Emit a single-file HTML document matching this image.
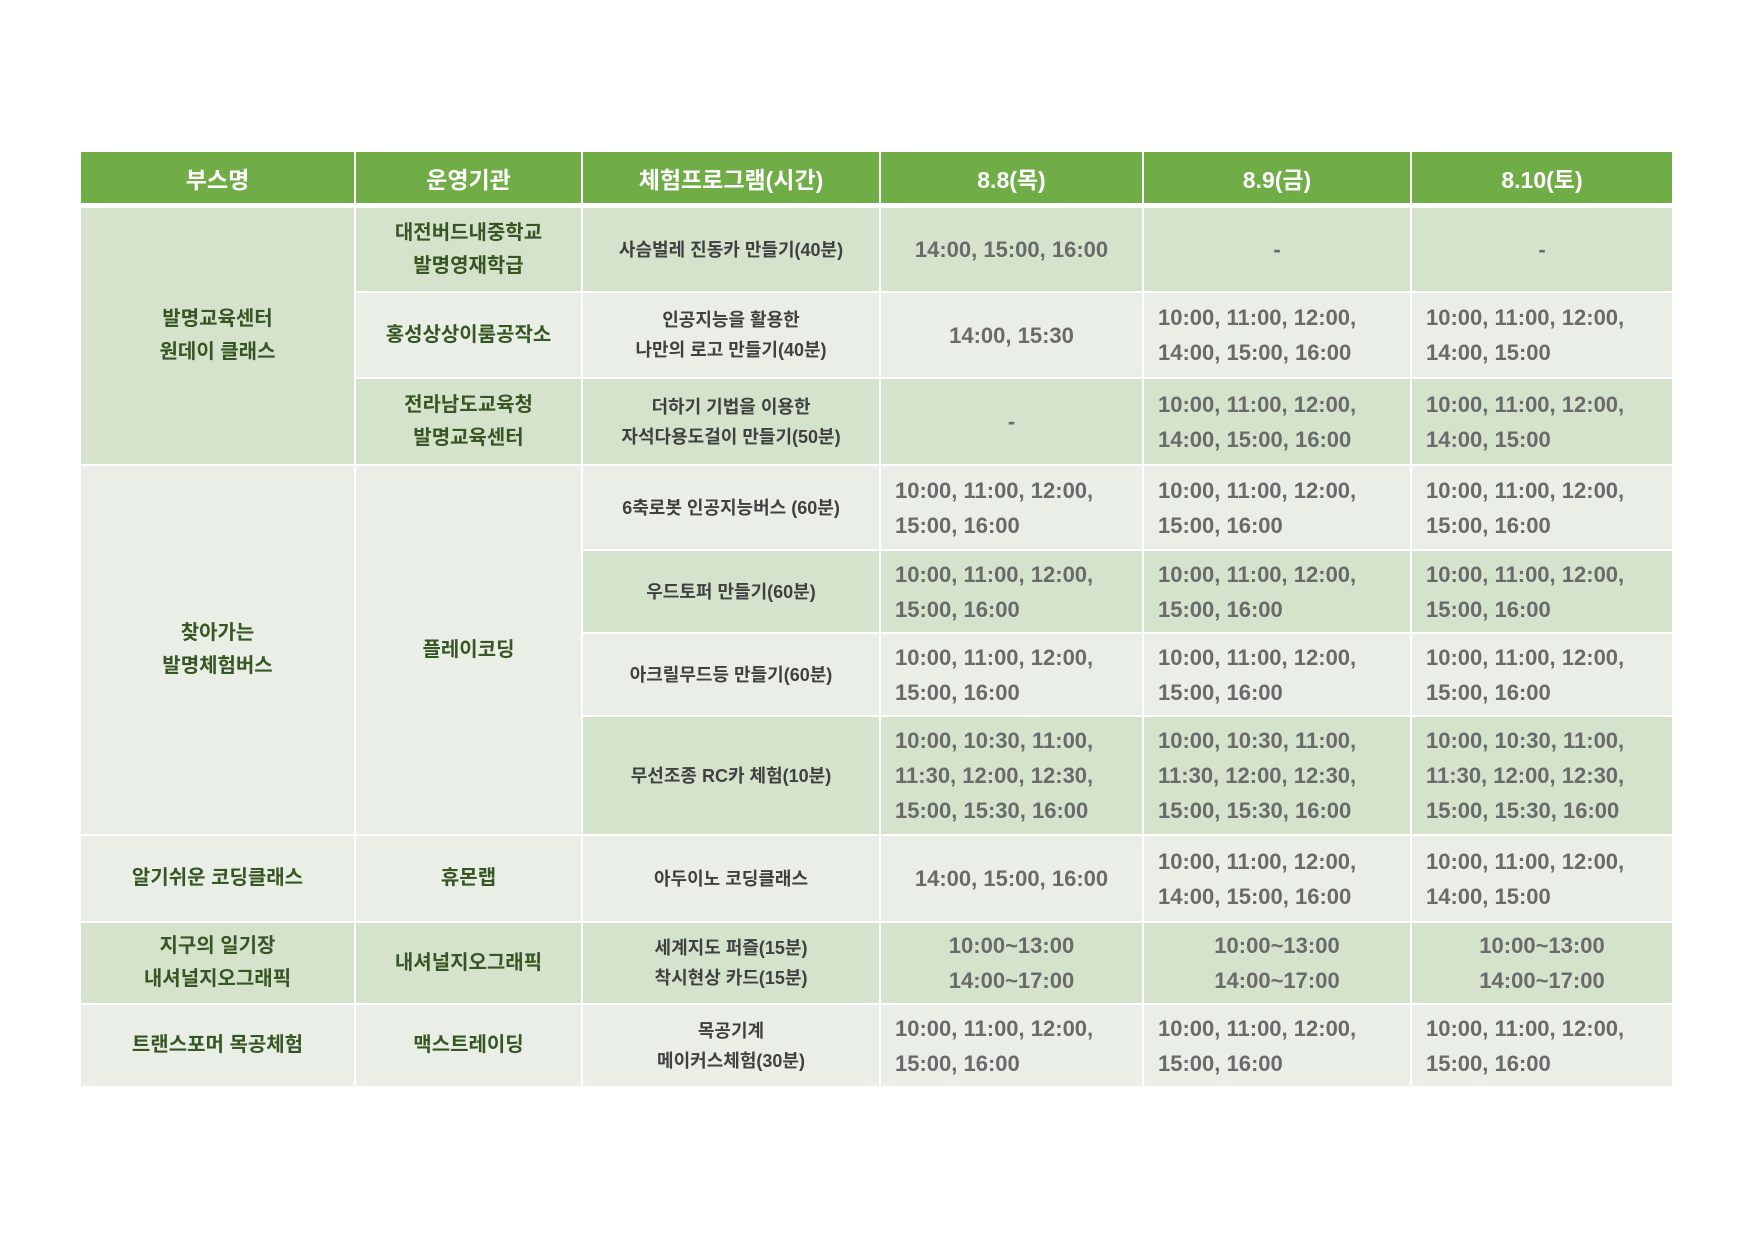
<!DOCTYPE html>
<html><head><meta charset="utf-8">
<style>
body{margin:0;width:1755px;height:1241px;background:#fff;position:relative;overflow:hidden;font-family:"Liberation Sans","Noto Sans CJK KR",sans-serif}
.c{position:absolute;box-sizing:border-box;display:flex;align-items:center;justify-content:center;text-align:center;border-right:2px solid #fff;border-bottom:2px solid #fff}
.h{background:#70ad47;color:#fff;font-weight:bold;font-size:23px}
.d{background:#d5e3cd}.l{background:#e9efe6}
.g{color:#375623;font-weight:bold;font-size:20px;line-height:33px}
.p{color:#404040;font-size:18px;line-height:30px;font-weight:bold}
.t{color:#6a6a6a;font-size:22px;line-height:35px;font-weight:bold}
.t.L{justify-content:flex-start;text-align:left;padding-left:14px}
</style></head><body>
<div id="tbl"></div>
<script>
const xs=[81,356,583,881,1144,1412,1674];
const headers=['부스명','운영기관','체험프로그램(시간)','8.8(목)','8.9(금)','8.10(토)'];
const ys=[208,293,379,466,551,634,717,836,923,1005,1088];
const rowBg=['d','l','d','l','d','l','d','l','d','l'];
const booths=[[0,3,'발명교육센터<br>원데이 클래스','d'],[3,7,'찾아가는<br>발명체험버스','l'],[7,8,'알기쉬운 코딩클래스','l'],[8,9,'지구의 일기장<br>내셔널지오그래픽','d'],[9,10,'트랜스포머 목공체험','l']];
const orgs=[[0,1,'대전버드내중학교<br>발명영재학급'],[1,2,'홍성상상이룸공작소'],[2,3,'전라남도교육청<br>발명교육센터'],[3,7,'플레이코딩'],[7,8,'휴몬랩'],[8,9,'내셔널지오그래픽'],[9,10,'맥스트레이딩']];
const programs=['사슴벌레 진동카 만들기(40분)','인공지능을 활용한<br>나만의 로고 만들기(40분)','더하기 기법을 이용한<br>자석다용도걸이 만들기(50분)','6축로봇 인공지능버스 (60분)','우드토퍼 만들기(60분)','아크릴무드등 만들기(60분)','무선조종 RC카 체험(10분)','아두이노 코딩클래스','세계지도 퍼즐(15분)<br>착시현상 카드(15분)','목공기계<br>메이커스체험(30분)'];
const A='10:00, 11:00, 12:00,<br>15:00, 16:00',B='10:00, 11:00, 12:00,<br>14:00, 15:00, 16:00',C='10:00, 11:00, 12:00,<br>14:00, 15:00',R='10:00, 10:30, 11:00,<br>11:30, 12:00, 12:30,<br>15:00, 15:30, 16:00',W='10:00~13:00<br>14:00~17:00';
const day1=['14:00, 15:00, 16:00','14:00, 15:30','-',A,A,A,R,'14:00, 15:00, 16:00',W,A];
const day2=['-',B,B,A,A,A,R,B,W,A];
const day3=['-',C,C,A,A,A,R,C,W,A];
const T=document.getElementById('tbl');
function cell(x0,x1,y0,y1,cls,html,name){const d=document.createElement('div');d.className='c '+cls;d.style.left=x0+'px';d.style.width=(x1-x0)+'px';d.style.top=y0+'px';d.style.height=(y1-y0)+'px';d.innerHTML=html;


T.appendChild(d);}
headers.forEach((h,i)=>cell(xs[i],xs[i+1],152,205,'h',h,'header-'+i));
booths.forEach(b=>cell(xs[0],xs[1],ys[b[0]],ys[b[1]],b[3]+' g',b[2],'booth-name'));
orgs.forEach(o=>cell(xs[1],xs[2],ys[o[0]],ys[o[1]],(o[1]-o[0]>1?'l':rowBg[o[0]])+' g',o[2],'organization'));
programs.forEach((p,r)=>cell(xs[2],xs[3],ys[r],ys[r+1],rowBg[r]+' p',p,'program'));
[day1,day2,day3].forEach((arr,k)=>arr.forEach((v,r)=>{const multi=v.indexOf('<br>')>=0&&v!==W;cell(xs[3+k],xs[4+k],ys[r],ys[r+1],rowBg[r]+' t'+(multi?' L':''),v,'time-slot');}));
</script>
</body></html>
